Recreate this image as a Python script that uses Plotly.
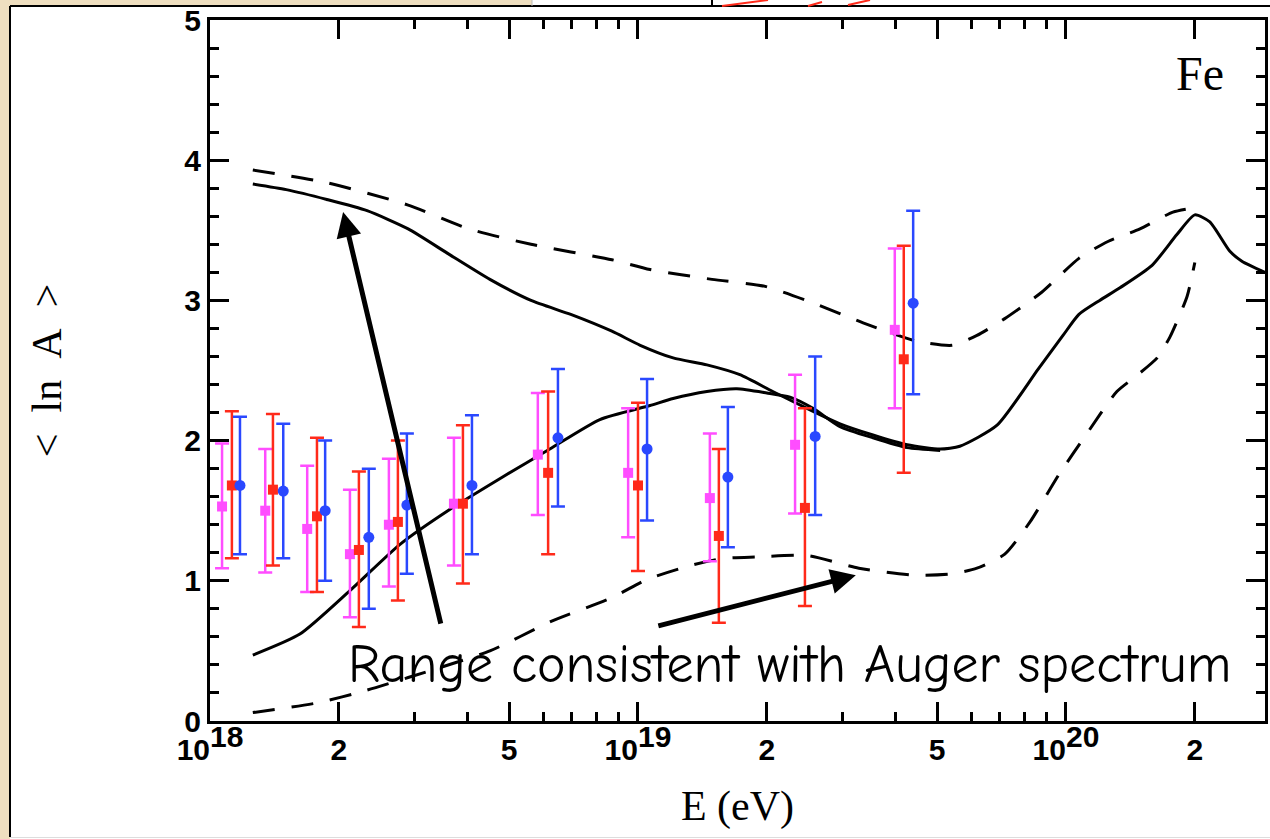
import plotly.graph_objects as go

# ---------------- model curves (E in eV, <ln A>) ----------------
E_solid_a = [1.259e18, 1.507e18, 1.875e18, 2.328e18, 2.904e18, 3.614e18, 4.508e18, 5.623e18,
             6.966e18, 8.690e18, 1.012e19, 1.208e19, 1.449e19, 1.730e19, 2.065e19, 2.483e19,
             2.965e19, 3.540e19, 4.256e19, 5.082e19, 5.649e19, 6.902e19, 8.610e19, 9.840e19,
             1.072e20, 1.199e20, 1.337e20, 1.589e20, 1.816e20, 2.000e20, 2.168e20, 2.415e20,
             2.576e20, 2.917e20]
lnA_solid_a = [3.83, 3.79, 3.72, 3.64, 3.51, 3.33, 3.15, 3.00,
               2.90, 2.78, 2.68, 2.59, 2.54, 2.47, 2.35, 2.23,
               2.12, 2.04, 1.97, 1.94, 1.96, 2.11, 2.51, 2.75,
               2.90, 3.00, 3.09, 3.25, 3.47, 3.61, 3.56, 3.35,
               3.28, 3.20]

E_solid_b = [1.259e18, 1.622e18, 2.123e18, 2.780e18, 3.639e18, 4.764e18, 6.223e18, 8.147e18,
             1.067e19, 1.208e19, 1.449e19, 1.702e19, 2.000e19, 2.265e19, 2.564e19, 2.965e19,
             3.540e19, 4.256e19, 5.082e19]
lnA_solid_b = [0.47, 0.62, 0.93, 1.26, 1.51, 1.73, 1.94, 2.15,
               2.25, 2.30, 2.35, 2.37, 2.34, 2.31, 2.23, 2.10,
               2.02, 1.95, 1.93]

E_dash_hi = [1.259e18, 1.875e18, 2.904e18, 4.027e18, 5.623e18, 8.690e18, 1.067e19, 1.489e19,
             1.982e19, 2.576e19, 3.357e19, 4.467e19, 5.420e19, 6.194e19, 7.194e19, 8.790e19,
             1.072e20, 1.253e20, 1.489e20, 1.778e20, 1.982e20]
lnA_dash_hi = [3.93, 3.84, 3.68, 3.51, 3.40, 3.29, 3.22, 3.15,
               3.10, 2.98, 2.84, 2.71, 2.68, 2.75, 2.87, 3.06,
               3.30, 3.42, 3.51, 3.63, 3.66]

E_dash_lo = [1.259e18, 1.786e18, 2.328e18, 2.904e18, 4.508e18, 6.266e18, 8.690e18, 1.050e19,
             1.330e19, 1.581e19, 1.897e19, 2.483e19, 3.281e19, 4.467e19, 5.420e19, 6.194e19,
             7.194e19, 8.241e19, 9.638e19, 1.119e20, 1.315e20, 1.472e20, 1.633e20, 1.750e20,
             1.919e20, 2.000e20]
lnA_dash_lo = [0.06, 0.13, 0.22, 0.31, 0.50, 0.71, 0.88, 1.01,
               1.11, 1.16, 1.17, 1.18, 1.09, 1.04, 1.05, 1.09,
               1.19, 1.42, 1.76, 2.05, 2.35, 2.47, 2.59, 2.74,
               3.03, 3.27]

# ---------------- data points ----------------
E_mag = [1.067e18, 1.346e18, 1.687e18, 2.123e18, 2.618e18, 3.715e18, 5.834e18, 9.484e18,
         1.472e19, 2.328e19, 3.981e19]
lnA_mag = [1.53, 1.50, 1.37, 1.19, 1.40, 1.55, 1.90, 1.77, 1.59, 1.97, 2.79]
err_mag_plus = [0.45, 0.44, 0.45, 0.46, 0.47, 0.47, 0.44, 0.46, 0.46, 0.50, 0.58]
err_mag_minus = [0.44, 0.44, 0.45, 0.45, 0.44, 0.44, 0.43, 0.46, 0.45, 0.49, 0.56]

E_red = [1.125e18, 1.403e18, 1.778e18, 2.228e18, 2.748e18, 3.899e18, 6.166e18, 1.000e19,
         1.545e19, 2.455e19, 4.178e19]
lnA_red = [1.68, 1.65, 1.46, 1.22, 1.42, 1.55, 1.77, 1.68, 1.32, 1.52, 2.58]
err_red_plus = [0.53, 0.54, 0.56, 0.56, 0.58, 0.56, 0.58, 0.59, 0.62, 0.71, 0.81]
err_red_minus = [0.52, 0.54, 0.54, 0.55, 0.56, 0.57, 0.58, 0.61, 0.62, 0.70, 0.81]

E_blue = [1.175e18, 1.483e18, 1.858e18, 2.350e18, 2.884e18, 4.093e18, 6.501e18, 1.050e19,
          1.622e19, 2.594e19, 4.395e19]
lnA_blue = [1.68, 1.64, 1.50, 1.31, 1.54, 1.68, 2.02, 1.94, 1.74, 2.03, 2.98]
err_blue_plus = [0.49, 0.48, 0.50, 0.49, 0.51, 0.50, 0.49, 0.50, 0.50, 0.57, 0.66]
err_blue_minus = [0.49, 0.48, 0.50, 0.51, 0.49, 0.49, 0.49, 0.51, 0.50, 0.56, 0.65]

# ---------------- ticks ----------------
x_tickvals = [1e18, 2e18, 5e18, 1e19, 2e19, 5e19, 1e20, 2e20]
x_ticktext = ["10<sup><span style='font-size:30px'>18</span></sup>", "2", "5",
              "10<sup><span style='font-size:30px'>19</span></sup>", "2", "5",
              "10<sup><span style='font-size:30px'>20</span></sup>", "2"]
x_minor = [3e18, 4e18, 6e18, 7e18, 8e18, 9e18, 3e19, 4e19, 6e19, 7e19, 8e19, 9e19, 3e20]
y_tickvals = [0, 1, 2, 3, 4, 5]

fig = go.Figure()

solid = dict(color="black", width=3, shape="spline", smoothing=0.6)
dashed = dict(color="black", width=3, shape="spline", smoothing=0.6, dash="22px,17px")

fig.add_trace(go.Scatter(x=E_solid_a, y=lnA_solid_a, mode="lines", line=solid))
fig.add_trace(go.Scatter(x=E_solid_b, y=lnA_solid_b, mode="lines", line=solid))
fig.add_trace(go.Scatter(x=E_dash_hi, y=lnA_dash_hi, mode="lines", line=dashed))
fig.add_trace(go.Scatter(x=E_dash_lo, y=lnA_dash_lo, mode="lines", line=dashed))

series = [
    (E_mag, lnA_mag, err_mag_plus, err_mag_minus, "#FF4DFF", "square", 10),
    (E_red, lnA_red, err_red_plus, err_red_minus, "#FF2A1A", "square", 10),
    (E_blue, lnA_blue, err_blue_plus, err_blue_minus, "#2A48FF", "circle", 11),
]
for ex, ey, ep, em, col, sym, sz in series:
    fig.add_trace(go.Scatter(
        x=ex, y=ey, mode="markers",
        marker=dict(color=col, symbol=sym, size=sz, line=dict(width=0)),
        error_y=dict(type="data", symmetric=False, array=ep, arrayminus=em,
                     color=col, thickness=2.5, width=7),
    ))

# pixel -> paper helpers for decorations outside the plot area
L, R, T, B = 210, 1265, 20, 721
def px(xp):
    return (xp - L) / (R - L)
def py(yp):
    return (B - yp) / (B - T)

BEIGE = "#EFDFC0"
shapes = [
    dict(type="rect", xref="paper", yref="paper", x0=px(-5), x1=px(10), y0=py(845), y1=py(-5),
         fillcolor=BEIGE, line=dict(width=0)),
    dict(type="rect", xref="paper", yref="paper", x0=px(-5), x1=px(532), y0=py(6), y1=py(-5),
         fillcolor=BEIGE, line=dict(width=0)),
    dict(type="line", xref="paper", yref="paper", x0=px(10), x1=px(10), y0=py(837), y1=py(6),
         line=dict(color="black", width=2)),
    dict(type="line", xref="paper", yref="paper", x0=px(10), x1=px(1275), y0=py(6), y1=py(6),
         line=dict(color="black", width=2)),
    dict(type="line", xref="paper", yref="paper", x0=px(10), x1=px(1275), y0=py(837.5), y1=py(837.5),
         line=dict(color="#DDDDDD", width=1)),
    dict(type="line", xref="paper", yref="paper", x0=px(532), x1=px(532), y0=py(6), y1=py(-2),
         line=dict(color="#BBBBBB", width=1)),
    dict(type="line", xref="paper", yref="paper", x0=px(712), x1=px(712), y0=py(6), y1=py(-2),
         line=dict(color="black", width=2)),
    dict(type="line", xref="paper", yref="paper", x0=px(722), x1=px(768), y0=py(6), y1=py(0),
         line=dict(color="#FF2A1A", width=2)),
    dict(type="line", xref="paper", yref="paper", x0=px(808), x1=px(822), y0=py(6), y1=py(2),
         line=dict(color="#FF2A1A", width=2)),
    dict(type="line", xref="paper", yref="paper", x0=px(848), x1=px(870), y0=py(5), y1=py(0),
         line=dict(color="#FF2A1A", width=2)),
]

annotations = [
    dict(x=18.311, y=3.63, xref="x", yref="y", ax=98, ay=413, axref="pixel", ayref="pixel",
         showarrow=True, arrowhead=2, arrowsize=1.0, arrowwidth=5, arrowcolor="black", text=""),
    dict(x=19.509, y=1.04, xref="x", yref="y", ax=-199, ay=51, axref="pixel", ayref="pixel",
         showarrow=True, arrowhead=2, arrowsize=1.0, arrowwidth=5, arrowcolor="black", text=""),
    dict(x=19.355, y=0.40, xref="x", yref="y", showarrow=False,
         text="Range consistent with Auger spectrum",
         font=dict(family="Comic Sans MS, Comic Neue, Lato", size=54, color="black"),
         xanchor="center", yanchor="middle"),
    dict(x=20.313, y=4.62, xref="x", yref="y", showarrow=False, text="Fe",
         font=dict(family="Liberation Serif, Times New Roman, serif", size=48, color="black"),
         xanchor="center", yanchor="middle"),
]

tickfont = dict(family="Liberation Sans, Arial, sans-serif", size=30, color="black", weight="bold")
titlefont = dict(family="Liberation Serif, Times New Roman, serif", size=42, color="black")

fig.update_layout(
    width=1270, height=839,
    margin=dict(l=L, r=1270 - R, t=T, b=839 - B),
    paper_bgcolor="white",
    plot_bgcolor="rgba(0,0,0,0)",
    showlegend=False,
    shapes=shapes,
    annotations=annotations,
    xaxis=dict(
        type="log", range=[18, 20.465],
        tickmode="array", tickvals=x_tickvals, ticktext=x_ticktext,
        ticks="inside", ticklen=19, tickwidth=3, tickcolor="black",
        minor=dict(tickmode="array", tickvals=x_minor, ticks="inside", ticklen=9,
                   tickwidth=3, tickcolor="black", showgrid=False),
        showline=True, linewidth=3, linecolor="black", mirror="ticks",
        showgrid=False, zeroline=False, tickfont=tickfont, automargin=False,
        layer="above traces",
        title=dict(text="E (eV)", font=titlefont, standoff=26),
    ),
    yaxis=dict(
        range=[0, 5],
        tickmode="array", tickvals=y_tickvals,
        ticks="inside", ticklen=19, tickwidth=3, tickcolor="black",
        minor=dict(dtick=0.2, ticks="inside", ticklen=9, tickwidth=3,
                   tickcolor="black", showgrid=False),
        showline=True, linewidth=3, linecolor="black", mirror="ticks",
        showgrid=False, zeroline=False, tickfont=tickfont, automargin=False,
        title=dict(text="&lt;\u00a0\u00a0ln\u00a0\u00a0A\u00a0\u00a0&gt;", font=titlefont, standoff=110),
    ),
)

fig.write_html("out.html")
